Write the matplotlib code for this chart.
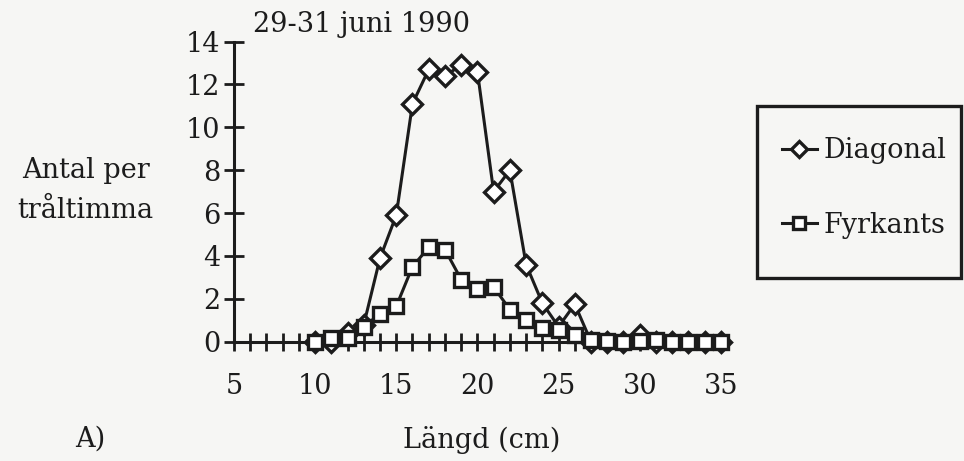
import matplotlib
matplotlib.use("Agg")
import matplotlib.pyplot as plt
from matplotlib.patches import Rectangle

# Längd (cm) och antal per tråltimma
langd = list(range(10, 36))
diagonal = [0, 0, 0.4, 0.8, 3.9, 5.9, 11.1, 12.7, 12.4, 12.9, 12.6, 7.0, 8.0,
            3.6, 1.8, 0.7, 1.75, 0, 0, 0, 0.3, 0, 0, 0, 0, 0]
fyrkants = [0, 0.15, 0.15, 0.7, 1.3, 1.65, 3.5, 4.4, 4.3, 2.9, 2.45, 2.55, 1.5,
            1.0, 0.65, 0.55, 0.3, 0.1, 0.05, 0, 0.05, 0.1, 0, 0, 0, 0]
xticks = [5, 10, 15, 20, 25, 30, 35]
yticks = [0, 2, 4, 6, 8, 10, 12, 14]

ink = "#1c1c1c"
bg = "#f6f6f4"
fs = 19.5
plt.rcParams["font.family"] = ["DejaVu Serif"]

fig = plt.figure(figsize=(9.64, 4.61), dpi=100, facecolor=bg)
ax = fig.add_axes([0.2427, 0.2588, 0.5135, 0.651])
ax.set_facecolor(bg)

ax.plot(langd, diagonal, color=ink, lw=2.2, marker="D", ms=10.5, mfc="white",
        mec=ink, mew=2.4, clip_on=False, zorder=3, label="Diagonal")
ax.plot(langd, fyrkants, color=ink, lw=2.2, marker="s", ms=10, mfc="white",
        mec=ink, mew=2.4, clip_on=False, zorder=4, label="Fyrkants")

ax.set_xlim(5, 35.5)
ax.set_ylim(0, 14)
for s in ["top", "right"]:
    ax.spines[s].set_visible(False)
for s in ["left", "bottom"]:
    ax.spines[s].set_linewidth(2.2)
    ax.spines[s].set_color(ink)

ax.set_xticks(xticks)
ax.set_xticks(range(5, 36), minor=True)
ax.set_yticks(yticks)
ax.tick_params(axis="both", which="both", direction="inout", width=2, color=ink,
               labelsize=fs, labelcolor=ink)
ax.tick_params(axis="x", which="both", length=13, pad=16)
ax.tick_params(axis="y", which="major", length=14, pad=3)

ax.set_xlabel("Längd (cm)", fontsize=fs, color=ink, labelpad=19)
fig.text(0.089, 1 - 178 / 461, "Antal per", fontsize=fs, color=ink,
         ha="center", va="baseline")
fig.text(0.089, 1 - 218 / 461, "tråltimma", fontsize=fs, color=ink,
         ha="center", va="baseline")
fig.text(0.2625, 0.93, "29-31 juni 1990", fontsize=fs, color=ink,
         ha="left", va="baseline")
fig.text(0.078, 0.032, "A)", fontsize=fs, color=ink, ha="left", va="baseline")

# legend box
fig.patches.append(Rectangle((0.785, 0.397), 0.212, 0.373, transform=fig.transFigure,
                             fill=False, edgecolor=ink, lw=2.4))
leg = ax.legend(loc="center left", bbox_to_anchor=(0.797, 0.592),
                bbox_transform=fig.transFigure, frameon=False, fontsize=fs,
                borderpad=0, handlelength=1.3, handletextpad=0.25,
                labelspacing=1.75, markerscale=0.8)
for t in leg.get_texts():
    t.set_color(ink)

fig.savefig("out.png", dpi=100, facecolor=bg)
